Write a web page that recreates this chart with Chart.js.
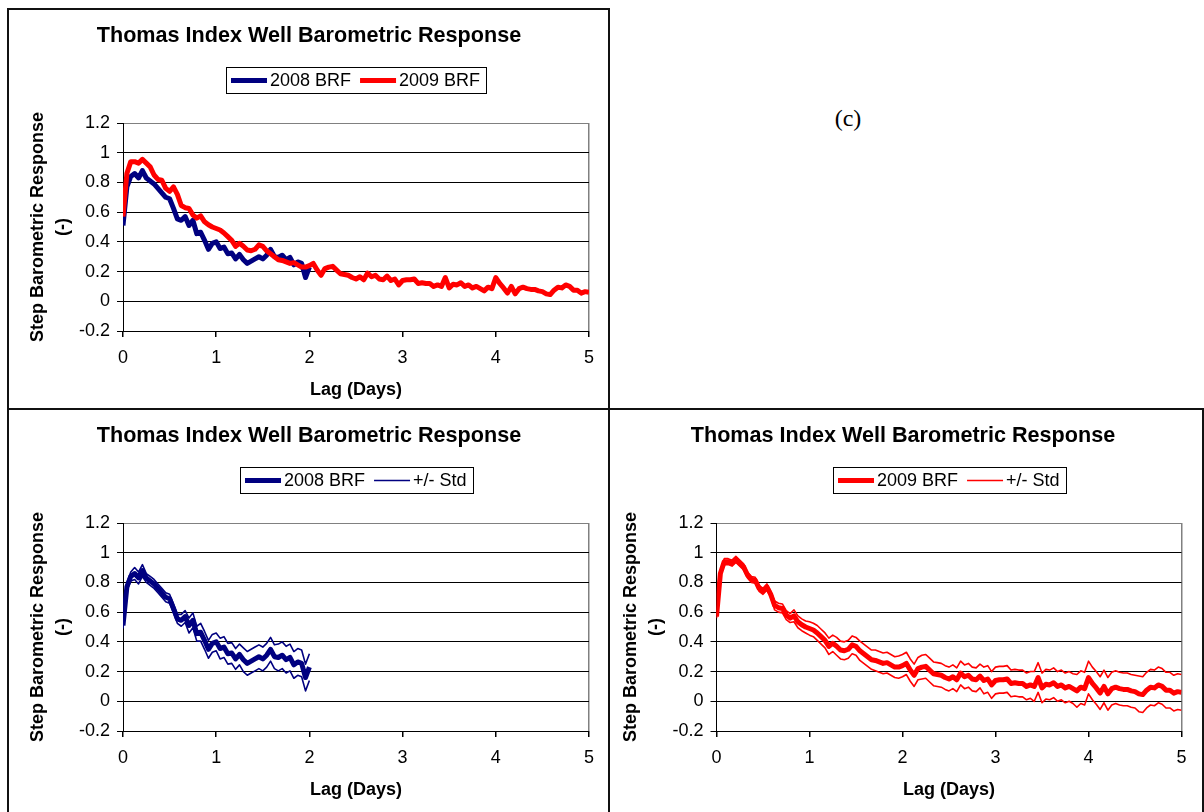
<!DOCTYPE html>
<html>
<head>
<meta charset="utf-8">
<script src="https://cdn.jsdelivr.net/npm/chart.js@4"></script>
<style>
  body { margin: 0; background: #fff; width: 1204px; height: 812px; overflow: hidden; position: relative; }
  .frame { position: absolute; box-sizing: border-box; border: 2px solid #111; }
  canvas { position: absolute; }
  #label-c { position: absolute; left: 848px; top: 118px; transform: translate(-50%, -50%);
             font: 24px "Liberation Serif", "Times New Roman", serif; line-height: 1; }
</style>
</head>
<body>
<div class="frame" style="left:7px;top:8px;width:603px;height:402px"></div>
<div class="frame" style="left:7px;top:408px;width:1197px;height:412px;border-bottom:none"></div>
<div style="position:absolute;left:608px;top:408px;width:2px;height:404px;background:#111"></div>
<div id="label-c">(c)</div>
<canvas id="tl" width="599" height="397" style="left:9px;top:10px"></canvas>
<canvas id="bl" width="599" height="397" style="left:9px;top:410px"></canvas>
<canvas id="br" width="592" height="397" style="left:610px;top:410px"></canvas>
<script>
// --- DATA --- //
// hourly samples, lag in days = hour / 24
const xTicks = [0, 1, 2, 3, 4, 5];
const yTicks = [-0.2, 0, 0.2, 0.4, 0.6, 0.8, 1, 1.2];

// 2008 BRF, 0 to 2 days
const brf2008 = [
  0.51, 0.77, 0.84, 0.86, 0.83, 0.88, 0.83, 0.81, 0.79, 0.76, 0.73, 0.70, 0.69,
  0.625, 0.555, 0.545, 0.57, 0.51, 0.545, 0.455, 0.465, 0.41, 0.35, 0.39, 0.40,
  0.355, 0.365, 0.32, 0.325, 0.285, 0.315, 0.28, 0.255, 0.27, 0.285, 0.30, 0.285,
  0.31, 0.35, 0.30, 0.295, 0.31, 0.28, 0.295, 0.245, 0.265, 0.255, 0.16, 0.23,
];
const std2008 = [
  0.02, 0.03, 0.03, 0.04, 0.04, 0.04, 0.03, 0.03, 0.03, 0.03, 0.03, 0.03, 0.03,
  0.03, 0.03, 0.04, 0.04, 0.05, 0.05, 0.05, 0.06, 0.06, 0.06, 0.06, 0.06,
  0.07, 0.07, 0.07, 0.07, 0.07, 0.07, 0.08, 0.08, 0.08, 0.08, 0.08, 0.08,
  0.08, 0.08, 0.08, 0.09, 0.09, 0.09, 0.09, 0.09, 0.09, 0.09, 0.09, 0.09,
];

// 2009 BRF, 0 to 5 days
const brf2009 = [
  0.57, 0.86, 0.94, 0.94, 0.93, 0.955, 0.93, 0.905, 0.85, 0.82, 0.815, 0.76, 0.74,
  0.77, 0.72, 0.645, 0.63, 0.625, 0.58, 0.56, 0.575, 0.535, 0.515, 0.50, 0.49,
  0.48, 0.46, 0.435, 0.41, 0.37, 0.39, 0.37, 0.345, 0.34, 0.35, 0.38, 0.37,
  0.34, 0.32, 0.30, 0.28, 0.275, 0.265, 0.255, 0.26, 0.245, 0.23, 0.23, 0.24,
  0.255, 0.21, 0.175, 0.22, 0.23, 0.235, 0.21, 0.185, 0.18, 0.175, 0.16, 0.15,
  0.165, 0.145, 0.19, 0.165, 0.175, 0.15, 0.145, 0.17, 0.14, 0.15, 0.11, 0.14,
  0.145, 0.145, 0.15, 0.12, 0.125, 0.12, 0.12, 0.10, 0.11, 0.10, 0.16, 0.09,
  0.115, 0.11, 0.125, 0.10, 0.11, 0.09, 0.10, 0.085, 0.07, 0.095, 0.085, 0.16,
  0.12, 0.09, 0.055, 0.10, 0.05, 0.085, 0.095, 0.085, 0.08, 0.08, 0.07, 0.065,
  0.05, 0.045, 0.075, 0.095, 0.09, 0.11, 0.10, 0.075, 0.075, 0.055, 0.065, 0.06,
];
const std2009 = [
  0.01, 0.02, 0.02, 0.02, 0.02, 0.02, 0.02, 0.02, 0.02, 0.02, 0.02, 0.02, 0.02,
  0.02, 0.02, 0.03, 0.03, 0.03, 0.03, 0.03, 0.04, 0.04, 0.04, 0.04, 0.045,
  0.045, 0.05, 0.05, 0.05, 0.055, 0.055, 0.06, 0.06, 0.06, 0.06, 0.06, 0.06,
  0.065, 0.065, 0.065, 0.065, 0.07, 0.07, 0.07, 0.07, 0.07, 0.07, 0.075, 0.075,
  0.075, 0.075, 0.075, 0.075, 0.08, 0.08, 0.08, 0.08, 0.08, 0.08, 0.08, 0.08,
  0.08, 0.08, 0.08, 0.08, 0.08, 0.08, 0.08, 0.08, 0.09, 0.09, 0.09, 0.09,
  0.09, 0.09, 0.09, 0.09, 0.09, 0.09, 0.09, 0.09, 0.09, 0.10, 0.10, 0.10,
  0.10, 0.10, 0.10, 0.10, 0.10, 0.10, 0.10, 0.10, 0.11, 0.11, 0.11, 0.11,
  0.11, 0.11, 0.11, 0.11, 0.11, 0.11, 0.11, 0.11, 0.11, 0.11, 0.11, 0.11,
  0.12, 0.12, 0.12, 0.12, 0.12, 0.12, 0.12, 0.12, 0.12, 0.12, 0.12, 0.12,
];

const NAVY = "#000080";
const RED = "#ff0000";
const FONT = '"Liberation Sans", Arial, sans-serif';
Chart.defaults.font.family = FONT;

const pts = (vals) => vals.map((v, i) => ({ x: i / 24, y: v }));
const band = (vals, sd, sign) => vals.map((v, i) => ({ x: i / 24, y: v + sign * sd[i] }));

// title + boxed legend drawn like the spreadsheet original
const headerPlugin = {
  id: "panelHeader",
  afterDraw(chart, args, opts) {
    const ctx = chart.ctx;
    const area = chart.chartArea;
    ctx.save();
    ctx.fillStyle = "#000";
    ctx.font = "bold 21.6px " + FONT;
    ctx.textAlign = "center";
    ctx.textBaseline = "middle";
    ctx.fillText(opts.title, opts.titleX, opts.titleY);

    ctx.font = "18px " + FONT;
    const items = chart.data.datasets.filter((d) => !d.legendHide);
    let w = 5;
    items.forEach((d, i) => {
      w += 36 + 3 + ctx.measureText(d.label).width;
      if (i < items.length - 1) w += 9;
    });
    w += 6;
    const h = 26;
    const left = Math.round((area.left + area.right) / 2 - w / 2);
    const top = opts.legendTop;
    ctx.strokeStyle = "#000";
    ctx.lineWidth = 1;
    ctx.strokeRect(left + 0.5, top + 0.5, Math.round(w), h);
    let x = left + 5;
    const cy = top + h / 2 + 0.5;
    ctx.textAlign = "left";
    items.forEach((d) => {
      ctx.beginPath();
      ctx.strokeStyle = d.borderColor;
      ctx.lineWidth = d.borderWidth;
      ctx.moveTo(x, cy);
      ctx.lineTo(x + 36, cy);
      ctx.stroke();
      x += 39;
      ctx.fillText(d.label, x, cy + 1);
      x += ctx.measureText(d.label).width + 9;
    });
    ctx.restore();
  },
};

function makeChart(id, datasets, L) {
  return new Chart(document.getElementById(id), {
    type: "line",
    data: { datasets: datasets },
    plugins: [headerPlugin],
    options: {
      responsive: false,
      animation: false,
      events: [],
      layout: { padding: { top: 113, right: L.right, bottom: 0, left: 0 } },
      elements: { point: { radius: 0 }, line: { tension: 0, borderJoinStyle: "round" } },
      plugins: {
        legend: { display: false },
        tooltip: { enabled: false },
        panelHeader: {
          title: "Thomas Index Well Barometric Response",
          titleX: L.titleX,
          titleY: 26,
          legendTop: 57,
        },
      },
      scales: {
        x: {
          type: "linear",
          min: 0,
          max: 5,
          afterBuildTicks: (s) => { s.ticks = xTicks.map((v) => ({ value: v })); },
          afterFit: (s) => { s.height = 76; },
          grid: {
            color: (c) => (c.tick && c.tick.value === 5 ? "#808080" : "rgba(0,0,0,0)"),
            lineWidth: 1.5,
            tickColor: "#000",
            tickLength: 6,
          },
          border: { color: "#000", width: 1 },
          ticks: { color: "#000", font: { size: 18 }, padding: 10, maxRotation: 0 },
          title: {
            display: true,
            text: "Lag (Days)",
            color: "#000",
            font: { size: 18, weight: "bold" },
            padding: { top: 0, bottom: 6.5 },
          },
        },
        y: {
          min: -0.2,
          max: 1.2,
          afterBuildTicks: (s) => { s.ticks = yTicks.map((v) => ({ value: v })); },
          afterFit: (s) => { s.width = L.yWidth; },
          grid: {
            color: (c) => (c.tick && c.tick.value === 1.2 ? "#808080" : "#000"),
            lineWidth: 1,
            tickColor: "#000",
            tickLength: 6,
          },
          border: { color: "#000", width: 1 },
          ticks: {
            color: "#000",
            font: { size: 18 },
            padding: 7,
            callback: (v) => String(Math.round(v * 10) / 10),
          },
          title: {
            display: true,
            text: ["Step Barometric Response", "(-)"],
            color: "#000",
            font: { size: 18, weight: "bold", lineHeight: 1.39 },
            padding: { top: L.yTitlePad, bottom: 0 },
          },
        },
      },
    },
  });
}

// --- top-left: both years ---
makeChart("tl", [
  { label: "2008 BRF", data: pts(brf2008), borderColor: NAVY, borderWidth: 5, order: 1 },
  { label: "2009 BRF", data: pts(brf2009), borderColor: RED, borderWidth: 5, order: 0 },
], { right: 19, yWidth: 114, yTitlePad: 16.5, titleX: 300 });

// --- bottom-left: 2008 with std band ---
makeChart("bl", [
  { label: "2008 BRF", data: pts(brf2008), borderColor: NAVY, borderWidth: 5, order: 0 },
  { label: "+/- Std", data: band(brf2008, std2008, 1), borderColor: NAVY, borderWidth: 1.6, order: 1 },
  { label: "+/- Std", data: band(brf2008, std2008, -1), borderColor: NAVY, borderWidth: 1.6, order: 1, legendHide: true },
], { right: 19, yWidth: 114, yTitlePad: 16.5, titleX: 300 });

// --- bottom-right: 2009 with std band ---
makeChart("br", [
  { label: "2009 BRF", data: pts(brf2009), borderColor: RED, borderWidth: 5, order: 0 },
  { label: "+/- Std", data: band(brf2009, std2009, 1), borderColor: RED, borderWidth: 1.6, order: 1 },
  { label: "+/- Std", data: band(brf2009, std2009, -1), borderColor: RED, borderWidth: 1.6, order: 1, legendHide: true },
], { right: 20.5, yWidth: 106.5, yTitlePad: 8.5, titleX: 293 });
</script>
</body>
</html>
